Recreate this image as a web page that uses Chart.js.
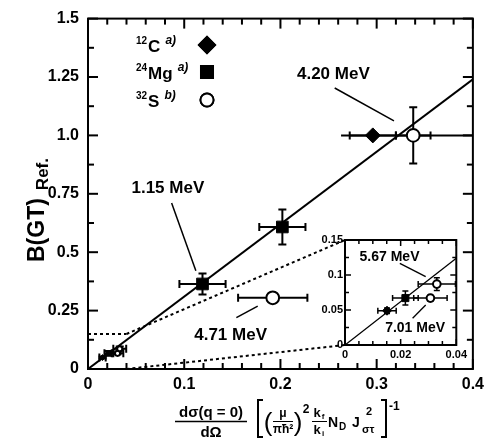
<!DOCTYPE html>
<html>
<head>
<meta charset="utf-8">
<script src="https://cdn.jsdelivr.net/npm/chart.js@4.4.1/dist/chart.umd.min.js"></script>
<style>
  html, body { margin: 0; padding: 0; background: #fff; }
  #wrap { position: relative; width: 490px; height: 438px; }
  #main { position: absolute; left: 0; top: 0; }
  #inset { position: absolute; left: 300px; top: 228px; }
</style>
</head>
<body>
<div id="wrap">
  <canvas id="main" width="490" height="438"></canvas>
  <canvas id="inset" width="170" height="135"></canvas>
</div>
<script>
// values
const c12X = [0.0151, 0.296];
const c12Y = [0.049, 1.0];
const c12XErr = [0.0033, 0.024];
const c12YErr = [0.004, 0.0];

const mg24X = [0.0217, 0.119, 0.202];
const mg24Y = [0.067, 0.364, 0.608];
const mg24XErr = [0.0046, 0.024, 0.024];
const mg24YErr = [0.01, 0.045, 0.075];

const s32X = [0.0307, 0.033, 0.192, 0.338];
const s32Y = [0.067, 0.087, 0.305, 1.0];
const s32XErr = [0.006, 0.0067, 0.036, 0.018];
const s32YErr = [0.004, 0.009, 0.02, 0.12];
const s32XErrTotal = [0, 0, 0, 0.075];

const fitSlope = 3.1;
const fitX = [0, 0.4];
const fitXInset = [0, 0.04];

const xTickLabels = ['0', '0.1', '0.2', '0.3', '0.4'];
const yTickLabels = ['0', '0.25', '0.5', '0.75', '1.0', '1.25', '1.5'];
const insetXTickLabels = ['0', '0.02', '0.04'];
const insetYTickLabels = ['0', '0.05', '0.1', '0.15'];

const FF = '"Liberation Sans", Arial, Helvetica, sans-serif';

function pts(xs, ys) { return xs.map((x, i) => ({ x: x, y: ys[i] })); }

function line(ctx, x1, y1, x2, y2) {
  ctx.beginPath(); ctx.moveTo(x1, y1); ctx.lineTo(x2, y2); ctx.stroke();
}

// error bars for all three samples
const errSeries = [
  { x: c12X, y: c12Y, xe: c12XErr, ye: c12YErr },
  { x: mg24X, y: mg24Y, xe: mg24XErr, ye: mg24YErr },
  { x: s32X, y: s32Y, xe: s32XErr, ye: s32YErr, xt: s32XErrTotal }
];

function errorBarPlugin(cap, lw) {
  return {
    id: 'errBars',
    beforeDatasetsDraw(chart) {
      const { ctx, chartArea: a, scales: { x, y } } = chart;
      ctx.save();
      ctx.beginPath(); ctx.rect(a.left, a.top, a.right - a.left, a.bottom - a.top); ctx.clip();
      ctx.strokeStyle = '#000'; ctx.lineWidth = lw;
      errSeries.forEach(s => {
        s.x.forEach((xv, i) => {
          const px = x.getPixelForValue(xv), py = y.getPixelForValue(s.y[i]);
          if (s.xt && s.xt[i]) {
            line(ctx, x.getPixelForValue(xv - s.xt[i]), py, x.getPixelForValue(xv + s.xt[i]), py);
          }
          if (s.xe[i]) {
            const l = x.getPixelForValue(xv - s.xe[i]), r = x.getPixelForValue(xv + s.xe[i]);
            line(ctx, l, py, r, py);
            line(ctx, l, py - cap, l, py + cap);
            line(ctx, r, py - cap, r, py + cap);
          }
          if (s.ye[i]) {
            const t = y.getPixelForValue(s.y[i] + s.ye[i]), b = y.getPixelForValue(s.y[i] - s.ye[i]);
            line(ctx, px, t, px, b);
            line(ctx, px - cap, t, px + cap, t);
            line(ctx, px - cap, b, px + cap, b);
          }
        });
      });
      ctx.restore();
    }
  };
}

function framePlugin(o) {
  return {
    id: 'frame',
    beforeDraw(chart) {
      if (!o.fill) return;
      const { ctx, chartArea: a } = chart;
      ctx.save(); ctx.fillStyle = '#fff';
      ctx.fillRect(a.left, a.top, a.right - a.left, a.bottom - a.top);
      ctx.restore();
    },
    afterDraw(chart) {
      const { ctx, chartArea: a, scales: { x, y } } = chart;
      ctx.save();
      ctx.strokeStyle = '#000';
      ctx.lineWidth = o.frame;
      ctx.strokeRect(a.left, a.top, a.right - a.left, a.bottom - a.top);
      ctx.lineWidth = o.tickW;
      const nx = Math.round((x.max - x.min) / o.xMinor);
      for (let i = 0; i <= nx; i++) {
        const v = x.min + i * o.xMinor;
        const px = x.getPixelForValue(v);
        const len = (i % o.xEvery === 0) ? o.major : o.minor;
        line(ctx, px, a.bottom, px, a.bottom - len);
        line(ctx, px, a.top, px, a.top + len);
      }
      const ny = Math.round((y.max - y.min) / o.yMinor);
      for (let i = 0; i <= ny; i++) {
        const v = y.min + i * o.yMinor;
        const py = y.getPixelForValue(v);
        const len = (i % o.yEvery === 0) ? o.major : o.minor;
        line(ctx, a.left, py, a.left + len, py);
        line(ctx, a.right, py, a.right - len, py);
      }
      ctx.restore();
    }
  };
}

function labelPlugin(labels, font, lw) {
  return {
    id: 'mevLabels',
    afterDatasetsDraw(chart) {
      const { ctx, scales: { x, y } } = chart;
      ctx.save();
      ctx.fillStyle = '#000'; ctx.strokeStyle = '#000'; ctx.lineWidth = lw;
      ctx.font = font; ctx.textAlign = 'center'; ctx.textBaseline = 'middle';
      labels.forEach(l => {
        ctx.fillText(l.text, x.getPixelForValue(l.at[0]), y.getPixelForValue(l.at[1]));
        line(ctx, x.getPixelForValue(l.from[0]), y.getPixelForValue(l.from[1]),
          x.getPixelForValue(l.to[0]), y.getPixelForValue(l.to[1]));
      });
      ctx.restore();
    }
  };
}

const mainLabels = [
  { text: '4.20 MeV', at: [0.255, 1.262], from: [0.2564, 1.203], to: [0.318, 1.0625] },
  { text: '1.15 MeV', at: [0.083, 0.773], from: [0.0869, 0.711], to: [0.1121, 0.421] },
  { text: '4.71 MeV', at: [0.1482, 0.1445], from: [0.1542, 0.2197], to: [0.1764, 0.269] }
];
const insetLabels = [
  { text: '5.67 MeV', at: [0.016, 0.126], from: [0.0197, 0.1167], to: [0.029, 0.0976] },
  { text: '7.01 MeV', at: [0.0252, 0.0239], from: [0.0243, 0.0381], to: [0.029, 0.0571] }
];

function drawMarker(ctx, style, x, y, r) {
  Chart.helpers.drawPoint(ctx, { pointStyle: style, radius: r, borderWidth: 2 }, x, y);
  ctx.fill(); ctx.stroke();
}

// legend, axis titles and zoom guides on the main canvas
const decorPlugin = {
  id: 'decor',
  afterDraw(chart) {
    const { ctx, chartArea: a, scales: { x, y } } = chart;
    ctx.save();
    ctx.fillStyle = '#000'; ctx.strokeStyle = '#000';

    // legend
    const rows = [
      { mass: '12', el: 'C', ref: 'a)', y: 45, style: 'rectRot', r: 8, fill: '#000' },
      { mass: '24', el: 'Mg', ref: 'a)', y: 72, style: 'rect', r: 8.5, fill: '#000' },
      { mass: '32', el: 'S', ref: 'b)', y: 100, style: 'circle', r: 6.5, fill: '#fff' }
    ];
    rows.forEach(rw => {
      ctx.textAlign = 'left'; ctx.textBaseline = 'alphabetic';
      ctx.font = 'bold 10px ' + FF;
      ctx.fillText(rw.mass, 136, rw.y - 1);
      let cx = 136 + ctx.measureText(rw.mass).width + 1;
      ctx.font = 'bold 17px ' + FF;
      ctx.fillText(rw.el, cx, rw.y + 7);
      cx += ctx.measureText(rw.el).width + 5;
      ctx.font = 'italic bold 12px ' + FF;
      ctx.fillText(rw.ref, cx, rw.y - 1);
      ctx.fillStyle = rw.fill; ctx.lineWidth = 2;
      drawMarker(ctx, rw.style, 207, rw.y, rw.r);
      ctx.fillStyle = '#000';
    });

    // y title
    ctx.save();
    ctx.translate(36, 262);
    ctx.rotate(-Math.PI / 2);
    ctx.textBaseline = 'alphabetic'; ctx.textAlign = 'left';
    ctx.font = 'bold 23px ' + FF;
    const w1 = ctx.measureText('B(GT)').width;
    ctx.fillText('B(GT)', 0, 8);
    ctx.font = 'bold 17px ' + FF;
    ctx.fillText('Ref.', w1 + 8, 12);
    ctx.restore();

    // x title
    ctx.textAlign = 'center'; ctx.textBaseline = 'alphabetic';
    ctx.font = 'bold 15px ' + FF;
    ctx.fillText('d\u03c3(q = 0)', 211, 417);
    ctx.fillText('d\u03a9', 211, 437);
    ctx.lineWidth = 1.5;
    line(ctx, 175, 421.5, 247, 421.5);
    // brackets
    ctx.lineWidth = 2;
    ctx.beginPath(); ctx.moveTo(263, 400); ctx.lineTo(258, 400); ctx.lineTo(258, 437); ctx.lineTo(263, 437); ctx.stroke();
    ctx.beginPath(); ctx.moveTo(381, 400); ctx.lineTo(386, 400); ctx.lineTo(386, 437); ctx.lineTo(381, 437); ctx.stroke();
    ctx.font = '26px ' + FF;
    ctx.fillText('(', 268, 431);
    ctx.fillText(')', 298, 431);
    ctx.font = 'bold 12px ' + FF;
    ctx.fillText('\u03bc', 283, 417);
    ctx.fillText('\u03c0\u0127\u00b2', 283, 433);
    ctx.lineWidth = 1;
    line(ctx, 273, 421.5, 293, 421.5);
    ctx.font = 'bold 12px ' + FF;
    ctx.fillText('2', 306, 413);
    // kf / ki
    ctx.font = 'bold 13px ' + FF;
    ctx.fillText('k', 317, 417);
    ctx.fillText('k', 317, 434);
    ctx.font = 'bold 8px ' + FF;
    ctx.fillText('f', 323, 419);
    ctx.fillText('i', 323, 436);
    line(ctx, 312, 421.5, 327, 421.5);
    ctx.textAlign = 'left';
    ctx.font = 'bold 14px ' + FF;
    ctx.fillText('N', 328, 427);
    ctx.font = 'bold 10px ' + FF;
    ctx.fillText('D', 339, 430);
    ctx.font = 'bold 14px ' + FF;
    ctx.fillText('J', 352, 427);
    ctx.font = 'bold 11px ' + FF;
    ctx.fillText('2', 366, 415);
    ctx.fillText('\u03c3\u03c4', 362, 433);
    ctx.font = 'bold 12px ' + FF;
    ctx.fillText('-1', 389, 410);

    // zoom guides toward the inset
    const ic = insetChart.chartArea;
    const ox = 300, oy = 228;
    ctx.lineWidth = 2; ctx.setLineDash([3, 3]);
    const bx = x.getPixelForValue(fitXInset[1]);
    const by = y.getPixelForValue(0.15);
    line(ctx, a.left, by, bx, by);
    line(ctx, bx, by, ox + ic.left, oy + ic.top);
    line(ctx, bx, a.bottom, ox + ic.left, oy + ic.bottom);
    ctx.restore();
  }
};

function scatterSets(rMain, rSmall) {
  const rad = p => (p.x < 0.05 ? rSmall : rMain);
  return [
    {
      label: '12C', data: pts(c12X, c12Y), pointStyle: 'rectRot',
      pointRadius: c => rad(c.raw) * 1.0, pointBackgroundColor: '#000', pointBorderColor: '#000', pointBorderWidth: 1
    },
    {
      label: '24Mg', data: pts(mg24X, mg24Y), pointStyle: 'rect',
      pointRadius: c => rad(c.raw) * 1.1, pointBackgroundColor: '#000', pointBorderColor: '#000', pointBorderWidth: 1
    },
    {
      label: '32S', data: pts(s32X, s32Y), pointStyle: 'circle',
      pointRadius: c => rad(c.raw) * 0.85, pointBackgroundColor: '#fff', pointBorderColor: '#000', pointBorderWidth: 2
    }
  ];
}

function fitSet(xs, lw) {
  return {
    type: 'line', label: 'fit', data: xs.map(v => ({ x: v, y: v * fitSlope })),
    borderColor: '#000', borderWidth: lw, pointRadius: 0, fill: false, order: 5
  };
}

// inset chart (drawn first so the main chart can read its area)
const insetChart = new Chart(document.getElementById('inset').getContext('2d'), {
  type: 'scatter',
  data: { datasets: [fitSet(fitXInset, 1.3)].concat(scatterSets(4.5, 4.5)) },
  options: {
    responsive: false, animation: false, devicePixelRatio: 1,
    layout: { padding: { top: 12, right: 10, left: 0, bottom: 0 } },
    plugins: { legend: { display: false }, tooltip: { enabled: false } },
    scales: {
      x: {
        type: 'linear', min: 0, max: 0.04,
        grid: { display: false, drawTicks: false }, border: { display: false },
        afterFit: s => { s.height = 18; },
        ticks: {
          stepSize: 0.02, padding: 3, color: '#000',
          font: { family: FF, size: 11, weight: 'bold' },
          callback: (v, i) => insetXTickLabels[i]
        }
      },
      y: {
        type: 'linear', min: 0, max: 0.15,
        grid: { display: false, drawTicks: false }, border: { display: false },
        afterFit: s => { s.width = 45; },
        ticks: {
          stepSize: 0.05, padding: 2, color: '#000',
          font: { family: FF, size: 11, weight: 'bold' },
          callback: (v, i) => insetYTickLabels[i]
        }
      }
    }
  },
  plugins: [
    framePlugin({ fill: true, frame: 2, tickW: 1.5, xMinor: 0.005, xEvery: 4, yMinor: 0.025, yEvery: 2, major: 6, minor: 4 }),
    errorBarPlugin(3, 1.5),
    labelPlugin(insetLabels, 'bold 14px ' + FF, 1.3)
  ]
});

const mainChart = new Chart(document.getElementById('main').getContext('2d'), {
  type: 'scatter',
  data: { datasets: [fitSet(fitX, 2)].concat(scatterSets(7.5, 3)) },
  options: {
    responsive: false, animation: false, devicePixelRatio: 1,
    layout: { padding: { top: 16, right: 12, left: 0, bottom: 0 } },
    plugins: { legend: { display: false }, tooltip: { enabled: false } },
    scales: {
      x: {
        type: 'linear', min: 0, max: 0.4,
        grid: { display: false, drawTicks: false }, border: { display: false },
        afterFit: s => { s.height = 69; },
        ticks: {
          stepSize: 0.1, padding: 6, color: '#000',
          font: { family: FF, size: 16, weight: 'bold' },
          callback: (v, i) => xTickLabels[i]
        }
      },
      y: {
        type: 'linear', min: 0, max: 1.5,
        grid: { display: false, drawTicks: false }, border: { display: false },
        afterFit: s => { s.width = 88; },
        ticks: {
          stepSize: 0.25, padding: 9, color: '#000',
          font: { family: FF, size: 16, weight: 'bold' },
          callback: (v, i) => yTickLabels[i]
        }
      }
    }
  },
  plugins: [
    framePlugin({ fill: false, frame: 2, tickW: 2, xMinor: 0.02, xEvery: 5, yMinor: 0.125, yEvery: 2, major: 10, minor: 6 }),
    errorBarPlugin(4, 2),
    labelPlugin(mainLabels, 'bold 17px ' + FF, 1.5),
    decorPlugin
  ]
});
</script>
</body>
</html>
